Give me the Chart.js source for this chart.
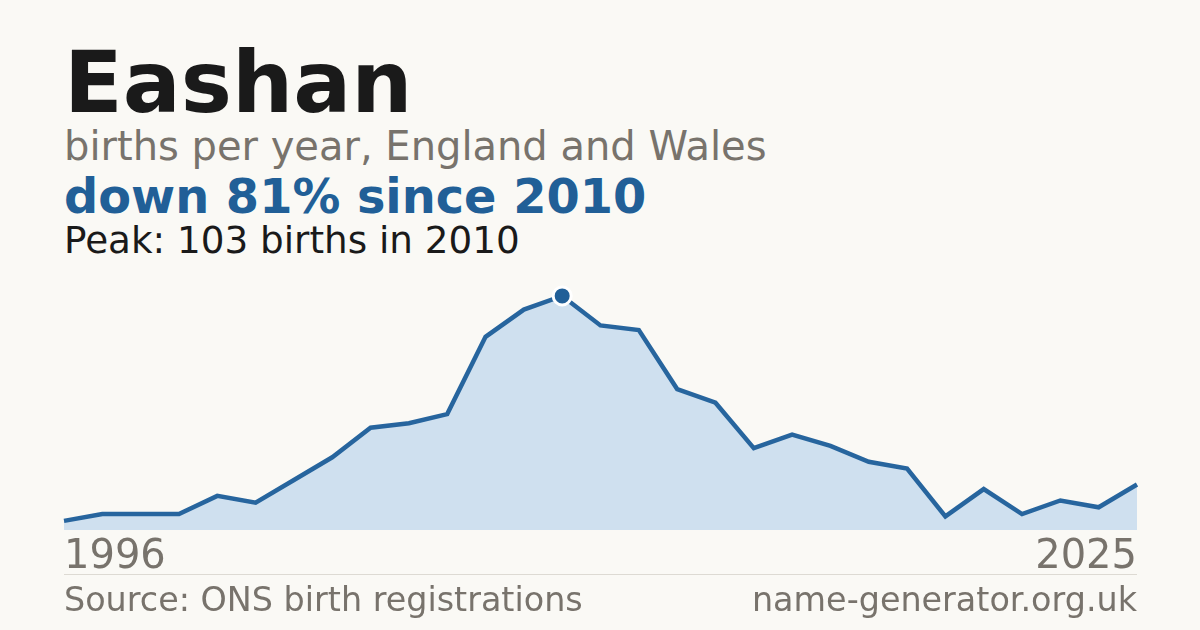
<!DOCTYPE html>
<html>
<head>
<meta charset="utf-8">
<script src="https://cdn.jsdelivr.net/npm/chart.js@4"></script>
<style>
  html, body { margin: 0; padding: 0; }
  body { width: 1200px; height: 630px; background: #faf9f5; position: relative; overflow: hidden;
         font-family: "DejaVu Sans", sans-serif; }
  .t { position: absolute; left: 64px; white-space: nowrap; line-height: 1; }
  #name { top: 39px; font-size: 86px; font-weight: bold; color: #1a1a1a; }
  #sub { top: 126px; font-size: 40px; color: #78736c; }
  #trend { top: 173px; font-size: 47.8px; font-weight: bold; color: #215f97; }
  #peak { top: 222px; font-size: 37.3px; color: #1a1a1a; }
  #rule { position: absolute; left: 64px; width: 1073px; top: 574px; height: 1px; background: #dddad3; }
  .foot { position: absolute; top: 583px; font-size: 33.4px; color: #78736c; line-height: 1; white-space: nowrap; }
  #src { left: 64px; }
  #site { right: 63px; }
  #wrap { position: absolute; left: 0; top: 270px; width: 1200px; height: 340px; }
</style>
</head>
<body>
<div class="t" id="name">Eashan</div>
<div class="t" id="sub">births per year, England and Wales</div>
<div class="t" id="trend">down 81% since 2010</div>
<div class="t" id="peak">Peak: 103 births in 2010</div>
<div id="wrap"><canvas id="chart"></canvas></div>
<div id="rule"></div>
<div class="foot" id="src">Source: ONS birth registrations</div>
<div class="foot" id="site">name-generator.org.uk</div>
<script>
// years with registrations (one early year has no figure)
const years = [1996, 1998, 1999, 2000, 2001, 2002, 2003, 2004, 2005, 2006, 2007, 2008, 2009, 2010,
  2011, 2012, 2013, 2014, 2015, 2016, 2017, 2018, 2019, 2020, 2021, 2022, 2023, 2024, 2025];
const births = [4, 7, 7, 7, 15, 12, 22, 32, 45, 47, 51, 85, 97, 103,
  90, 88, 62, 56, 36, 42, 37, 30, 27, 6, 18, 7, 13, 10, 20];
const peakIndex = 13;

const pointSizes = births.map((v, i) => i === peakIndex ? 9 : 0);

const ctx = document.getElementById('chart').getContext('2d');
new Chart(ctx, {
  type: 'line',
  data: {
    labels: years.map(String),
    datasets: [{
      data: births,
      borderColor: '#27659e',
      borderWidth: 4.5,
      backgroundColor: '#cfe0ef',
      fill: 'origin',
      tension: 0,
      pointRadius: pointSizes,
      pointHoverRadius: pointSizes,
      pointBackgroundColor: '#215f97',
      pointBorderColor: '#ffffff',
      pointBorderWidth: 3,
      clip: false
    }]
  },
  options: {
    responsive: true,
    maintainAspectRatio: false,
    animation: false,
    events: [],
    layout: { padding: { left: 64, right: 63, top: 10, bottom: 24 } },
    plugins: { legend: { display: false }, tooltip: { enabled: false } },
    scales: {
      x: {
        offset: false,
        grid: { display: false, drawTicks: false },
        border: { display: false },
        ticks: {
          autoSkip: false,
          maxRotation: 0,
          align: 'inner',
          padding: 4,
          color: '#78736c',
          font: { family: 'DejaVu Sans', size: 40 },
          callback: (v, i) => (i === 0 || i === years.length - 1) ? years[i] : ''
        }
      },
      y: {
        display: false,
        min: 0,
        max: 110
      }
    }
  }
});
</script>
</body>
</html>
